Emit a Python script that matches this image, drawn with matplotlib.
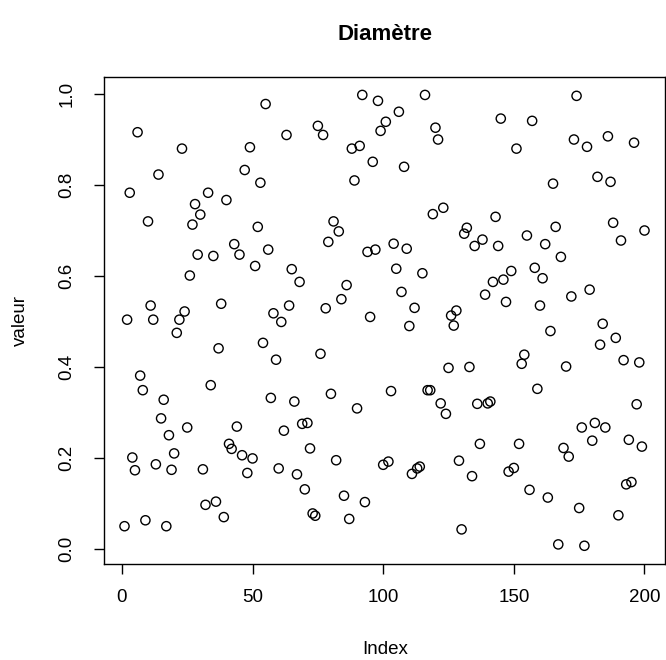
import numpy as np
import matplotlib
matplotlib.use("Agg")
import matplotlib.pyplot as plt

plt.rcParams['font.family'] = ['Liberation Sans', 'DejaVu Sans']

# valeurs (index 1..200)
valeur = [
    0.050, 0.504, 0.783, 0.201, 0.173, 0.916, 0.381, 0.349, 0.063, 0.720,
    0.535, 0.504, 0.186, 0.823, 0.287, 0.328, 0.050, 0.250, 0.174, 0.210,
    0.475, 0.504, 0.880, 0.522, 0.267, 0.601, 0.713, 0.758, 0.647, 0.735,
    0.175, 0.097, 0.783, 0.360, 0.644, 0.104, 0.441, 0.539, 0.070, 0.767,
    0.231, 0.220, 0.670, 0.269, 0.647, 0.206, 0.833, 0.167, 0.883, 0.199,
    0.622, 0.708, 0.805, 0.453, 0.978, 0.658, 0.332, 0.518, 0.416, 0.177,
    0.499, 0.260, 0.910, 0.535, 0.615, 0.324, 0.164, 0.587, 0.275, 0.131,
    0.277, 0.221, 0.078, 0.073, 0.930, 0.429, 0.910, 0.529, 0.675, 0.341,
    0.720, 0.195, 0.698, 0.549, 0.117, 0.580, 0.066, 0.880, 0.810, 0.309,
    0.886, 0.998, 0.103, 0.653, 0.510, 0.851, 0.658, 0.985, 0.919, 0.185,
    0.939, 0.192, 0.347, 0.671, 0.616, 0.961, 0.565, 0.840, 0.660, 0.490,
    0.165, 0.530, 0.177, 0.181, 0.606, 0.998, 0.349, 0.349, 0.736, 0.926,
    0.900, 0.320, 0.750, 0.297, 0.398, 0.513, 0.491, 0.524, 0.194, 0.043,
    0.693, 0.706, 0.400, 0.160, 0.666, 0.319, 0.231, 0.680, 0.559, 0.320,
    0.324, 0.587, 0.730, 0.666, 0.946, 0.592, 0.543, 0.170, 0.611, 0.178,
    0.880, 0.231, 0.407, 0.427, 0.689, 0.130, 0.941, 0.618, 0.352, 0.535,
    0.595, 0.670, 0.113, 0.479, 0.803, 0.708, 0.010, 0.642, 0.222, 0.401,
    0.203, 0.555, 0.900, 0.996, 0.090, 0.267, 0.007, 0.884, 0.570, 0.238,
    0.277, 0.818, 0.449, 0.495, 0.267, 0.907, 0.807, 0.717, 0.464, 0.074,
    0.678, 0.415, 0.142, 0.240, 0.147, 0.893, 0.318, 0.410, 0.225, 0.700,
]
index = np.arange(1, len(valeur) + 1)

xticks = [0, 50, 100, 150, 200]
yticks = [0.0, 0.2, 0.4, 0.6, 0.8, 1.0]

fig = plt.figure(figsize=(6.66, 6.60), dpi=100)
W, H = 666, 660
# cadre du graphique en pixels (bord droit tout au bord de l'image)
left, right, top, bottom = 103.7, 665.3, 76.9, 563.8
ax = fig.add_axes([left / W, 1 - bottom / H, (right - left) / W, (bottom - top) / H])

ax.scatter(index, valeur, s=44, facecolors='none', edgecolors='black', linewidths=1.0)

# etendue a la R (+4%)
xr = index.max() - index.min()
ax.set_xlim(index.min() - 0.04 * xr, index.max() + 0.04 * xr)
yr = max(valeur) - min(valeur)
ax.set_ylim(min(valeur) - 0.04 * yr, max(valeur) + 0.04 * yr)

ax.set_xticks(xticks)
ax.set_xticklabels([str(t) for t in xticks])
ax.set_yticks(yticks)
ax.set_yticklabels(["%.1f" % t for t in yticks], rotation=90, va='center')
ax.tick_params(direction='out', length=7.5, width=1.0, labelsize=13.5, colors='black')
ax.tick_params(axis='x', pad=11)
ax.tick_params(axis='y', pad=13)
for s in ax.spines.values():
    s.set_linewidth(1.0)

fig.text(385 / W, 1 - 650 / H, "Index", fontsize=13.5, ha='center', va='center')
fig.text(20 / W, 1 - 320 / H, "valeur", fontsize=13.5, rotation=90, ha='center', va='center')
fig.text(385 / W, 1 - 35 / H, "Diamètre", fontsize=16, fontweight='bold', ha='center', va='center')

fig.savefig("out.png", dpi=100)
